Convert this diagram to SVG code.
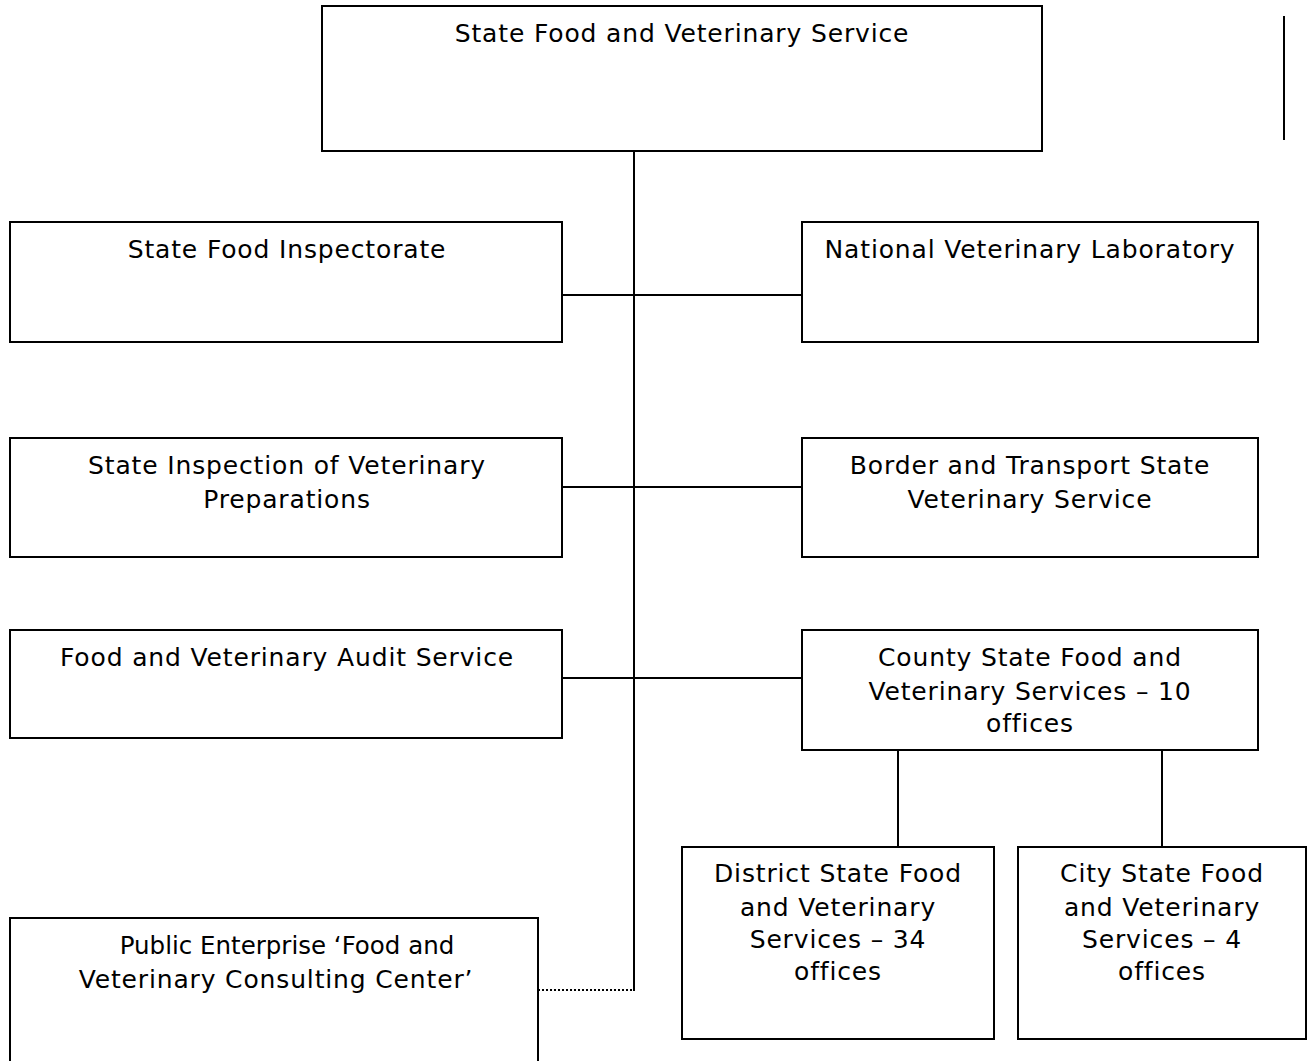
<svg xmlns="http://www.w3.org/2000/svg" width="1308" height="1061" viewBox="0 0 1308 1061">
<style>
.box{fill:#fff;stroke:#000;stroke-width:2}
.ln{stroke:#000;stroke-width:2;fill:none}
.dot{stroke:#000;stroke-width:2;fill:none;stroke-dasharray:2 2}
text{font-family:"DejaVu Sans",Verdana,sans-serif;font-size:25px;letter-spacing:0.85px;fill:#000;text-anchor:middle}
.tight{font-size:24.5px;letter-spacing:0}
</style>
<rect width="1308" height="1061" fill="#fff"/>
<g id="connectors">
<line class="ln" x1="634" y1="151" x2="634" y2="991"/>
<line class="ln" x1="562" y1="295" x2="802" y2="295"/>
<line class="ln" x1="562" y1="487" x2="802" y2="487"/>
<line class="ln" x1="562" y1="678" x2="802" y2="678"/>
<line class="ln" x1="898" y1="750" x2="898" y2="847"/>
<line class="ln" x1="1162" y1="750" x2="1162" y2="847"/>
<line class="dot" x1="538" y1="990" x2="633" y2="990"/>
<line class="ln" x1="1284" y1="16" x2="1284" y2="140"/>
</g>
<g id="n-top">
<rect class="box" x="322" y="6" width="720" height="145"/>
<text x="682" y="42">State Food and Veterinary Service</text>
</g>
<g id="n-sfi">
<rect class="box" x="10" y="222" width="552" height="120"/>
<text x="287" y="258">State Food Inspectorate</text>
</g>
<g id="n-nvl">
<rect class="box" x="802" y="222" width="456" height="120"/>
<text x="1030" y="258">National Veterinary Laboratory</text>
</g>
<g id="n-sivp">
<rect class="box" x="10" y="438" width="552" height="119"/>
<text x="287" y="474">State Inspection of Veterinary</text>
<text x="287" y="508">Preparations</text>
</g>
<g id="n-btsvs">
<rect class="box" x="802" y="438" width="456" height="119"/>
<text x="1030" y="474">Border and Transport State</text>
<text x="1030" y="508">Veterinary Service</text>
</g>
<g id="n-fvas">
<rect class="box" x="10" y="630" width="552" height="108"/>
<text x="287" y="666">Food and Veterinary Audit Service</text>
</g>
<g id="n-county">
<rect class="box" x="802" y="630" width="456" height="120"/>
<text x="1030" y="666">County State Food and</text>
<text x="1030" y="700">Veterinary Services – 10</text>
<text x="1030" y="732">offices</text>
</g>
<g id="n-district">
<rect class="box" x="682" y="847" width="312" height="192"/>
<text x="838" y="882">District State Food</text>
<text x="838" y="916">and Veterinary</text>
<text x="838" y="948">Services – 34</text>
<text x="838" y="980">offices</text>
</g>
<g id="n-city">
<rect class="box" x="1018" y="847" width="288" height="192"/>
<text x="1162" y="882">City State Food</text>
<text x="1162" y="916">and Veterinary</text>
<text x="1162" y="948">Services – 4</text>
<text x="1162" y="980">offices</text>
</g>
<g id="n-public">
<rect class="box" x="10" y="918" width="528" height="150"/>
<text class="tight" x="287" y="954">Public Enterprise ‘Food and</text>
<text x="276" y="988">Veterinary Consulting Center’</text>
</g>
</svg>
